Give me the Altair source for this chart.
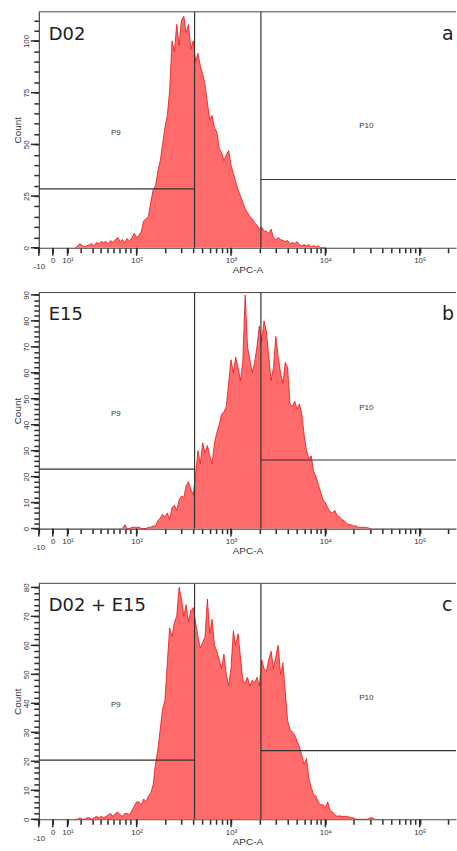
import math
import altair as alt
import pandas as pd

# ---------------- data ----------------
# x is the display position in decades of APC-A (log10 above 100, biexponential below)
STEP = 0.025

a_start = 1.35
a_counts = [0, 1, 2, 1, 0.5, 1, 1.5, 2, 1, 2.5, 2, 3, 2.5, 3, 2, 3.5, 2.5, 4, 5, 3,
            4, 2.5, 4.5, 3, 5, 7, 5, 6, 8, 13, 14, 15, 22, 28, 30, 37, 42, 50, 58, 64,
            76, 100, 95, 108, 98, 110, 112, 104, 108, 96, 100, 90, 94, 88, 84, 79, 70, 62, 64, 58,
            56, 48, 46, 42, 45, 47, 40, 36, 32, 28, 25, 22, 19, 17, 15, 14, 12, 11, 9, 10,
            8, 8, 7, 9, 5, 4, 5, 4, 3.5, 3, 3.5, 2, 2.5, 2, 3, 1.5, 1, 1.5, 1, 1.5,
            0.5, 1, 0.5, 1, 0, 0, 0]

b_start = 1.85
b_counts = [0, 1.5, 0, 0, 0.5, 0.5, 0.5, 0.5, 0, 0, 0, 0.5, 0.5, 1, 1, 3, 4, 5.5, 4.5, 6,
            3.5, 8, 9, 7, 11, 12.5, 12, 16.5, 18, 15, 13, 21, 30, 25, 33, 29, 32, 28, 25, 33,
            37, 40, 44, 45, 47, 56, 65, 60, 66, 62, 57, 64, 90, 70, 65, 60, 64, 70, 78, 72,
            80, 76, 66, 57, 62, 74, 66, 60, 56, 64, 62, 48, 47, 49, 46, 48, 44, 36, 30, 27,
            28, 22, 20, 17, 14, 11, 10, 8, 6.5, 6, 7, 5, 4.5, 3.5, 3, 2, 1.5, 1.5, 1, 1,
            0.5, 0.5, 0.5, 0.5, 0.3, 0]

c_start = 1.35
c_counts = [0, 0, 0.5, 0, 0, 0.5, 0.5, 0, 0.5, 1, 0.5, 1, 0.5, 1, 1.5, 2, 1, 2, 2.5, 1.5,
            1, 2, 2, 1.5, 3, 4.5, 6, 6, 5, 7, 6, 8, 9, 12, 19, 24, 31, 38, 41, 54,
            66, 63, 68, 70, 80, 76, 70, 74, 68, 72, 73, 68, 63, 59, 61, 63, 76, 64, 69, 60,
            58, 55, 52, 57, 50, 46, 52, 65, 60, 64, 56, 48, 47, 49, 46, 48, 47, 49, 46, 55,
            52, 51, 55, 58, 52, 56, 60, 50, 54, 44, 34, 31, 30, 29, 27, 25, 22, 19, 21, 14,
            11, 8.5, 8, 6, 5, 5, 4, 6, 3, 2.5, 1.5, 1, 1.2, 1, 1, 1, 0.8, 0.5, 0.5, 0,
            0, 0, 0, 0, 0, 0.5, 0.5, 0]

# axis ticks: display positions and labels
major_pos = [0.964, 1.112, 1.268, 2.0, 3.0, 4.0, 5.0]
major_lbl = ["-10", "0", "10¹", "10²", "10³", "10⁴", "10⁵"]
minor_low = [1.405, 1.531, 1.615, 1.689, 1.758, 1.821, 1.879, 1.937]  # 20 ... 90
minor_pos = minor_low + [round(d + math.log10(k), 4) for d in (2, 3, 4) for k in range(2, 10)] + [round(5 + math.log10(2), 4)]

XMIN, XMAX = 0.964, 5.384
GATE_P9 = 2.614   # upper edge of P9
GATE_P10 = 3.317  # lower edge of P10

panels = [
    dict(name="D02", letter="a", ymax=114.1, p9=28.5, p10=33.0, lab=25, tick=5, t9=55.4, t10=58.7, counts=a_counts, start=a_start),
    dict(name="E15", letter="b", ymax=90.9, p9=22.9, p10=26.4, lab=10, tick=2, t9=44.0, t10=46.5, counts=b_counts, start=b_start),
    dict(name="D02 + E15", letter="c", ymax=81.4, p9=20.4, p10=23.7, lab=10, tick=2, t9=39.5, t10=41.8, counts=c_counts, start=c_start),
]

W, H = 419, 237
FILL = "#FF6B6B"
LINE = "#E81414"
DARK = "#333333"
AXC = "#2a2a2a"
TW = 1.5
MINOR_T, MAJOR_T = 5, 8


def label_expr():
    s = "''"
    for p, l in reversed(list(zip(major_pos, major_lbl))):
        s = f"abs(datum.value - {p}) < 0.001 ? '{l}' : ({s})"
    return s


x_axis = alt.Axis(
    values=major_pos + minor_pos,
    labelExpr=label_expr(),
    tickSize=MINOR_T,
    tickColor=AXC,
    tickWidth=TW,
    labelPadding={"condition": {"test": "abs(datum.value - 0.964) < 0.001", "value": 10}, "value": 4},
    labelFlush=False,
    labelOverlap=False,
    labelBound=False,
    title="APC-A",
    titleY=17,
    titleBaseline="top",
    grid=False,
)


def panel(p, extra_title=False):
    n = len(p["counts"])
    df = pd.DataFrame({"u": [round(p["start"] + STEP * i, 4) for i in range(n)], "count": p["counts"]})
    xs = alt.Scale(domain=[XMIN, XMAX], nice=False, zero=False)
    ys = alt.Scale(domain=[0, p["ymax"]], nice=False, zero=False)
    lab, tk = p["lab"], p["tick"]
    y_vals = list(range(0, int(p["ymax"]) + 1, tk))
    y_major = [v for v in y_vals if v % lab == 0]
    y_axis = alt.Axis(
        values=y_vals,
        labelExpr=f"datum.value % {lab} == 0 ? datum.label : ''",
        tickSize=MINOR_T,
        tickColor=AXC,
        tickWidth=TW,
        labelAngle=-90,
        labelAlign="center",
        labelBaseline="bottom",
        labelPadding=3,
        labelOverlap=False,
        labelFlush=False,
        title="Count",
        titlePadding=0,
        grid=False,
    )
    X = alt.X("u:Q", scale=xs, axis=x_axis)
    Y = alt.Y("count:Q", scale=ys, axis=y_axis)

    area = alt.Chart(df).mark_area(color=FILL, opacity=1).encode(x=X, y=Y)
    line = alt.Chart(df).mark_line(color=LINE, strokeWidth=0.8).encode(x=X, y=Y)

    hg = pd.DataFrame({"u": [XMIN, GATE_P10], "u2": [GATE_P9, XMAX], "count": [p["p9"], p["p10"]]})
    hrules = alt.Chart(hg).mark_rule(color=DARK, strokeWidth=1.2).encode(x=X, x2="u2:Q", y=Y)
    vg = pd.DataFrame({"u": [GATE_P9, GATE_P10]})
    vrules = alt.Chart(vg).mark_rule(color=DARK, strokeWidth=1.2).encode(x=X)

    top = alt.Chart(pd.DataFrame({"k": [0]})).mark_rule(color="#444444", strokeWidth=1).encode(y=alt.value(0))

    # longer major ticks
    xmaj = alt.Chart(pd.DataFrame({"u": major_pos})).mark_rule(color=AXC, strokeWidth=TW).encode(
        x=X, y=alt.value(H), y2=alt.value(H + MAJOR_T))
    ymaj = alt.Chart(pd.DataFrame({"count": y_major})).mark_rule(color=AXC, strokeWidth=TW).encode(
        y=Y, x=alt.value(0), x2=alt.value(-MAJOR_T))

    gl = pd.DataFrame({"u": [1.779, 4.434], "count": [p["t9"], p["t10"]], "t": ["P9", "P10"]})
    gate_txt = alt.Chart(gl).mark_text(font="Liberation Sans", fontSize=8, color=DARK).encode(x=X, y=Y, text="t:N")

    nm = alt.Chart(pd.DataFrame({"t": [p["name"]]})).mark_text(
        font="DejaVu Sans", fontSize=18, color="#222222", align="left", baseline="alphabetic"
    ).encode(x=alt.value(10), y=alt.value(28), text="t:N")
    lt = alt.Chart(pd.DataFrame({"t": [p["letter"]]})).mark_text(
        font="DejaVu Sans", fontSize=19, color="#222222", align="left", baseline="alphabetic"
    ).encode(x=alt.value(405), y=alt.value(28), text="t:N")

    ch = alt.layer(area, line, hrules, vrules, top, xmaj, ymaj, gate_txt, nm, lt).properties(width=W, height=H)
    if extra_title:
        ch = ch.properties(title=alt.TitleParams(".", color="#ffffff", fontSize=11, offset=1))
    return ch


chart = alt.vconcat(
    panel(panels[0]), panel(panels[1]), panel(panels[2], extra_title=True), spacing=15
).properties(
    padding={"left": 12, "top": 9, "right": 0, "bottom": 0}, background="#ffffff"
).configure_view(strokeWidth=0).configure_axis(
    domainColor="#444444", domainWidth=1.2,
    labelFont="Liberation Sans", labelFontSize=8, labelColor=DARK,
    titleFont="Liberation Sans", titleFontSize=10, titleFontWeight="normal", titleColor=DARK,
)

chart.save("out.html", embed_options={"renderer": "svg", "actions": False})
